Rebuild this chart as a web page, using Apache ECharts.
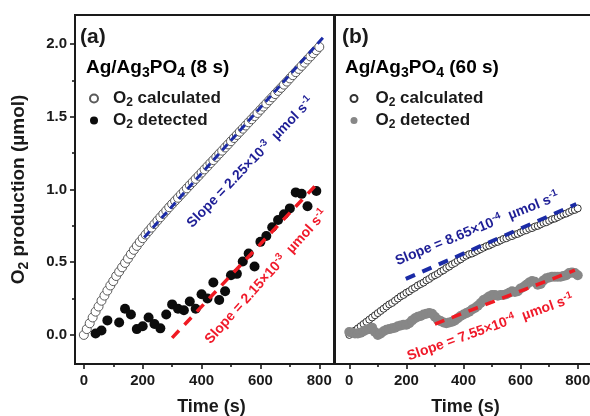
<!DOCTYPE html>
<html><head><meta charset="utf-8">
<script src="https://cdn.jsdelivr.net/npm/echarts@6/dist/echarts.min.js"></script>
<style>html,body{margin:0;padding:0;background:#fff}#c{width:590px;height:416px}</style>
</head><body><div id="c"></div>
<script>
// ---------- data ----------
const times = [0,10,20,30,40,50,60,70,80,90,100,110,120,130,140,150,160,170,180,190,200,210,220,230,240,250,260,270,280,290,300,310,320,330,340,350,360,370,380,390,400,410,420,430,440,450,460,470,480,490,500,510,520,530,540,550,560,570,580,590,600,610,620,630,640,650,660,670,680,690,700,710,720,730,740,750,760,770,780,790,800];
const calcA = [0,0.04,0.08,0.12,0.16,0.195,0.235,0.27,0.305,0.34,
0.37,0.405,0.435,0.465,0.495,0.525,0.555,0.585,0.612,0.639,
0.665,0.69,0.714,0.738,0.762,0.786,0.809,0.832,0.855,0.878,
0.9,0.922,0.943,0.965,0.986,1.008,1.03,1.051,1.073,1.094,
1.116,1.138,1.159,1.181,1.202,1.224,1.246,1.267,1.289,1.31,
1.332,1.354,1.375,1.397,1.418,1.44,1.462,1.483,1.505,1.526,
1.548,1.57,1.591,1.613,1.634,1.656,1.678,1.699,1.721,1.742,
1.764,1.786,1.807,1.829,1.85,1.872,1.894,1.915,1.937,1.958,
1.98];
const detA = [[40,0.01],[60,0.03],[80,0.10],[120,0.085],[140,0.18],[160,0.14],[180,0.04],[200,0.06],[220,0.12],[240,0.075],[260,0.045],[280,0.14],[300,0.21],[320,0.18],[340,0.17],[360,0.23],[380,0.18],[400,0.28],[420,0.25],[440,0.36],[460,0.24],[480,0.30],[500,0.41],[520,0.42],[540,0.505],[560,0.56],[580,0.47],[600,0.64],[620,0.68],[640,0.74],[660,0.79],[680,0.83],[700,0.87],[720,0.98],[740,0.97],[760,0.885],[790,0.99]];
const calcB = [0,0.015,0.03,0.045,0.06,0.075,0.09,0.105,0.12,0.135,
0.15,0.165,0.18,0.195,0.21,0.22,0.235,0.25,0.265,0.275,
0.29,0.3,0.315,0.325,0.34,0.35,0.36,0.375,0.385,0.4,
0.41,0.42,0.435,0.445,0.46,0.47,0.485,0.495,0.51,0.52,
0.535,0.545,0.555,0.56,0.57,0.58,0.59,0.6,0.61,0.615,
0.625,0.635,0.64,0.65,0.66,0.665,0.675,0.68,0.69,0.695,
0.705,0.715,0.72,0.73,0.735,0.745,0.75,0.76,0.77,0.775,
0.785,0.795,0.8,0.81,0.82,0.83,0.835,0.845,0.855,0.86,
0.87];
const detB = [0.02,0.015,0.01,0.01,0.015,0.025,0.035,0.04,0.05,0.02,
0.0,0.01,0.025,0.035,0.04,0.045,0.05,0.06,0.065,0.07,
0.07,0.08,0.1,0.115,0.125,0.13,0.14,0.145,0.15,0.145,
0.125,0.105,0.095,0.085,0.08,0.085,0.09,0.1,0.115,0.13,
0.14,0.15,0.16,0.175,0.185,0.2,0.22,0.24,0.25,0.265,
0.275,0.275,0.27,0.275,0.275,0.28,0.29,0.3,0.295,0.3,
0.32,0.33,0.345,0.36,0.37,0.365,0.345,0.35,0.375,0.39,
0.395,0.4,0.4,0.4,0.4,0.405,0.41,0.425,0.43,0.425,
0.41];
const fitA_calc = [[205,0.67],[815,2.05]];
const fitA_det  = [[300,-0.02],[800,1.055]];
const fitB_calc = [[198,0.385],[795,0.90]];
const fitB_det  = [[300,0.075],[790,0.445]];
const xTicks = [0,200,400,600,800];
const xMinor = [100,300,500,700];
const yTicks = [0,0.5,1.0,1.5,2.0];
const yMinor = [0.25,0.75,1.25,1.75];

// ---------- styles ----------
const FF = '"Liberation Sans", Arial, Helvetica, sans-serif';
const INK = '#1a1a1a';
const BLUE_L = '#1b2ba6', BLUE_T = '#1e1e96';
const RED_L = '#f01a22', RED_T = '#f01a2a';
function rich(size, color, lead){
  return {
    m:{fontSize:size,fontWeight:'bold',fontFamily:FF,color:color},
    f:{fontSize:size,fontWeight:'bold',fontFamily:FF,color:color,padding:[0,0,0,lead||0]},
    s:{fontSize:Math.round(size*0.72),fontWeight:'bold',fontFamily:FF,color:color,padding:[Math.round(size*0.5),0,0,0]},
    p:{fontSize:Math.round(size*0.7),fontWeight:'bold',fontFamily:FF,color:color,padding:[0,0,Math.round(size*0.6),0]}
  };
}
const legendText = {
  calcA:'{f|O}{s|2}{m| calculated}', detA:'{f|O}{s|2}{m| detected}',
  calcB:'{f|O}{s|2}{m| calculated}', detB:'{f|O}{s|2}{m| detected}'
};
const tickLbl = {fontSize:15,fontWeight:'bold',color:INK,fontFamily:FF};

function xMain(g, min, max, shift){
  return {gridIndex:g,type:'value',min:min,max:max,position:'bottom',
    axisLine:{show:false,onZero:false},splitLine:{show:false},
    axisTick:{show:true,length:5,customValues:xTicks,lineStyle:{color:INK,width:1.6}},
    axisLabel:Object.assign({customValues:xTicks,margin:9},tickLbl),
    name:'Time (s)',nameLocation:'middle',nameGap:34,
    nameTextStyle:{fontSize:18,fontWeight:'bold',color:INK,fontFamily:FF,padding:[0,0,0,shift]}};
}
function xMin(g, min, max){
  return {gridIndex:g,type:'value',min:min,max:max,position:'bottom',
    axisLine:{show:false,onZero:false},splitLine:{show:false},axisLabel:{show:false},
    axisTick:{show:true,length:3,customValues:xMinor,lineStyle:{color:INK,width:1.6}}};
}

const chart = echarts.init(document.getElementById('c'), null, {renderer:'canvas'});
chart.setOption({
  animation:false,
  backgroundColor:'#fff',
  grid:[
    {left:75,top:15,width:259,height:349,show:true,borderColor:INK,borderWidth:2,backgroundColor:'rgba(0,0,0,0)',outerBoundsMode:'none'},
    {left:335,top:15,width:257,height:349,show:true,borderColor:INK,borderWidth:2,backgroundColor:'rgba(0,0,0,0)',outerBoundsMode:'none'}
  ],
  xAxis:[ xMain(0,-30,850,14), xMin(0,-30,850), xMain(1,-50,850,4), xMin(1,-50,850) ],
  yAxis:[
    {gridIndex:0,type:'value',min:-0.2,max:2.2,position:'left',
     axisLine:{show:false,onZero:false},splitLine:{show:false},
     axisTick:{show:true,length:5,customValues:yTicks,lineStyle:{color:INK,width:1.6}},
     axisLabel:Object.assign({customValues:yTicks,margin:8,formatter:v=>v.toFixed(1)},tickLbl),
     name:'{m|O}{s|2}{m| production (µmol)}',nameLocation:'middle',nameGap:44,nameRotate:90,
     nameTextStyle:{rich:rich(19,INK)}},
    {gridIndex:0,type:'value',min:-0.2,max:2.2,position:'left',
     axisLine:{show:false,onZero:false},splitLine:{show:false},axisLabel:{show:false},
     axisTick:{show:true,length:3,customValues:yMinor,lineStyle:{color:INK,width:1.6}}},
    {gridIndex:1,type:'value',min:-0.2,max:2.2,position:'left',
     axisLine:{show:false,onZero:false},splitLine:{show:false},axisLabel:{show:false},axisTick:{show:false}}
  ],
  legend:[
    {data:['calcA','detA'],orient:'vertical',left:89,top:90,padding:0,itemWidth:8,itemHeight:8,itemGap:3,
     icon:'circle',selectedMode:false,formatter:n=>legendText[n],textStyle:{rich:rich(17,INK,10)}},
    {data:['calcB','detB'],orient:'vertical',left:349.5,top:90,padding:0,itemWidth:7,itemHeight:7,itemGap:3,
     icon:'circle',selectedMode:false,formatter:n=>legendText[n],textStyle:{rich:rich(17,INK,13)}}
  ],
  series:[
    {type:'scatter',name:'calcA',xAxisIndex:0,yAxisIndex:0,data:times.map((t,i)=>[t,calcA[i]]),
     symbolSize:9,itemStyle:{color:'#fff',borderColor:'#5a5a5a',borderWidth:1,opacity:1},z:2,silent:true},
    {type:'scatter',name:'detA',xAxisIndex:0,yAxisIndex:0,data:detA,
     symbolSize:10,itemStyle:{color:'#0c0c0c',opacity:1},z:2,silent:true},
    {type:'line',name:'fitA1',xAxisIndex:0,yAxisIndex:0,data:fitA_calc,symbol:'none',
     lineStyle:{color:BLUE_L,width:3,type:[8,5]},z:5,silent:true},
    {type:'line',name:'fitA2',xAxisIndex:0,yAxisIndex:0,data:fitA_det,symbol:'none',
     lineStyle:{color:RED_L,width:3.5,type:[10,8]},z:5,silent:true},
    {type:'scatter',name:'calcB',xAxisIndex:2,yAxisIndex:2,data:times.map((t,i)=>[t,calcB[i]]),
     symbolSize:7,itemStyle:{color:'#fff',borderColor:'#333',borderWidth:1,opacity:1},z:2,silent:true},
    {type:'scatter',name:'detB',xAxisIndex:2,yAxisIndex:2,data:times.map((t,i)=>[t,detB[i]]),
     symbolSize:10,itemStyle:{color:'#878787',opacity:1},z:3,silent:true},
    {type:'line',name:'fitB1',xAxisIndex:2,yAxisIndex:2,data:fitB_calc,symbol:'none',
     lineStyle:{color:BLUE_L,width:4,type:[10,8]},z:5,silent:true},
    {type:'line',name:'fitB2',xAxisIndex:2,yAxisIndex:2,data:fitB_det,symbol:'none',
     lineStyle:{color:RED_L,width:3.5,type:[10,8]},z:5,silent:true}
  ]
});

// ---------- annotations (anchored in data coordinates) ----------
const annos = [
  {axes:{xAxisIndex:0,yAxisIndex:0},at:[566,1.186],rot:46,color:BLUE_T,text:'{m|Slope = 2.25×10}{p|-3}{m|  µmol s}{p|-1}'},
  {axes:{xAxisIndex:0,yAxisIndex:0},at:[620,0.40],rot:48,color:RED_T,text:'{m|Slope = 2.15×10}{p|-3}{m|  µmol s}{p|-1}'},
  {axes:{xAxisIndex:2,yAxisIndex:2},at:[448,0.73],rot:22,color:BLUE_T,text:'{m|Slope = 8.65×10}{p|-4}{m|  µmol s}{p|-1}'},
  {axes:{xAxisIndex:2,yAxisIndex:2},at:[494,0.05],rot:19.5,color:RED_T,text:'{m|Slope = 7.55×10}{p|-4}{m|  µmol s}{p|-1}'}
];
const graphics = annos.map(a=>{
  const p = chart.convertToPixel(a.axes, a.at);
  return {type:'text',x:p[0],y:p[1],rotation:a.rot*Math.PI/180,z:10,silent:true,
    style:{text:a.text,rich:rich(14,a.color),align:'center',verticalAlign:'middle',fill:a.color}};
});
graphics.push(
  {type:'text',x:80,y:37,silent:true,style:{text:'(a)',font:'bold 21px '+FF,fill:INK,align:'left',verticalAlign:'middle'}},
  {type:'text',x:86,y:68,silent:true,style:{text:'{m|Ag/Ag}{s|3}{m|PO}{s|4}{m| (8 s)}',rich:rich(19,INK),align:'left',verticalAlign:'middle'}},
  {type:'text',x:342,y:37,silent:true,style:{text:'(b)',font:'bold 21px '+FF,fill:INK,align:'left',verticalAlign:'middle'}},
  {type:'text',x:345,y:68,silent:true,style:{text:'{m|Ag/Ag}{s|3}{m|PO}{s|4}{m| (60 s)}',rich:rich(19,INK),align:'left',verticalAlign:'middle'}}
);
chart.setOption({graphic:graphics});
</script></body></html>
